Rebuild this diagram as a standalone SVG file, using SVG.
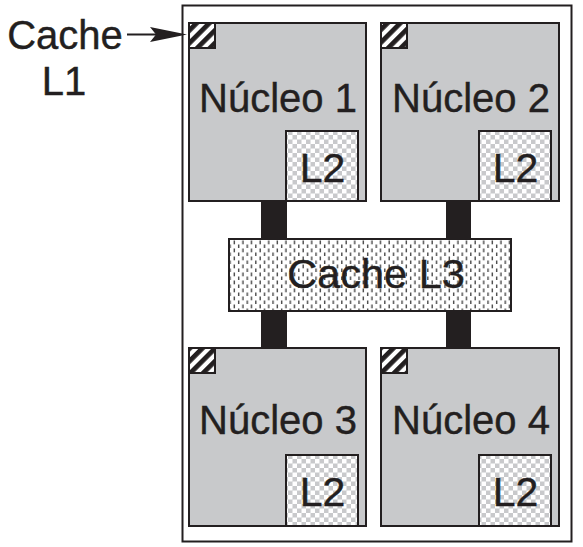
<svg xmlns="http://www.w3.org/2000/svg" width="583" height="547" viewBox="0 0 583 547">
<style>
.t{font-family:"Liberation Sans",Arial,sans-serif;fill:#231f20;text-anchor:middle;stroke:#231f20;stroke-width:0.4}
.node{fill:#c8c9cb;stroke:#231f20;stroke-width:2}
.l2{fill:url(#checker);stroke:#231f20;stroke-width:2}
.l1{fill:url(#stripes);stroke:#231f20;stroke-width:2}
.bar{fill:#231f20}
</style>
<defs>
<pattern id="checker" width="9" height="9" patternUnits="userSpaceOnUse">
<rect width="9" height="9" fill="#c8c9cb"/>
<rect x="0" y="0" width="4.5" height="4.5" fill="#ffffff"/>
<rect x="4.5" y="4.5" width="4.5" height="4.5" fill="#ffffff"/>
</pattern>
<pattern id="stripes" width="9" height="9" patternUnits="userSpaceOnUse" patternTransform="rotate(45)">
<rect width="9" height="9" fill="#ffffff"/>
<rect x="0" y="0" width="4.8" height="9" fill="#231f20"/>
</pattern>
<pattern id="dots" width="8.6" height="8" patternUnits="userSpaceOnUse">
<rect width="8.6" height="8" fill="#ffffff"/>
<rect x="1.5" y="0.5" width="1.3" height="3.8" fill="#3a3a3a"/>
<rect x="5.8" y="4.5" width="1.3" height="3.8" fill="#3a3a3a"/>
</pattern>
</defs>
<rect x="182.5" y="5.5" width="389" height="536" fill="none" stroke="#231f20" stroke-width="2"/>
<g id="connectors">
<rect class="bar" x="261" y="201" width="26" height="38"/>
<rect class="bar" x="446" y="201" width="25" height="38"/>
<rect class="bar" x="261" y="311" width="26" height="37"/>
<rect class="bar" x="446" y="311" width="25" height="37"/>
<line x1="127" y1="34.5" x2="165" y2="34.5" stroke="#231f20" stroke-width="2"/>
<polygon points="150,27 187,34.5 150,42 156,34.5" fill="#231f20"/>
</g>
<g id="label-l1">
<text class="t" x="65" y="49" font-size="40">Cache</text>
<text class="t" x="64" y="95" font-size="40">L1</text>
</g>
<g id="node1">
<rect class="node" x="189" y="23" width="177" height="178"/>
<rect class="l1" x="189" y="23" width="26" height="25"/>
<text class="t" x="278" y="112" font-size="40">Núcleo 1</text>
<rect class="l2" x="286" y="131" width="72" height="70"/>
<text class="t" x="322.5" y="182" font-size="41">L2</text>
</g>
<g id="node2">
<rect class="node" x="381" y="23" width="178" height="178"/>
<rect class="l1" x="381" y="23" width="26" height="25"/>
<text class="t" x="471" y="112" font-size="40">Núcleo 2</text>
<rect class="l2" x="479" y="131" width="72" height="70"/>
<text class="t" x="515.5" y="182" font-size="41">L2</text>
</g>
<g id="l3">
<rect x="229" y="239" width="282" height="72" fill="url(#dots)" stroke="#231f20" stroke-width="2"/>
<text class="t" x="376" y="288" font-size="41.5">Cache L3</text>
</g>
<g id="node3">
<rect class="node" x="189" y="348" width="177" height="178"/>
<rect class="l1" x="189" y="348" width="26" height="25"/>
<text class="t" x="278" y="434" font-size="40">Núcleo 3</text>
<rect class="l2" x="286" y="455" width="72" height="71"/>
<text class="t" x="322.5" y="506" font-size="41">L2</text>
</g>
<g id="node4">
<rect class="node" x="381" y="348" width="178" height="178"/>
<rect class="l1" x="381" y="348" width="26" height="25"/>
<text class="t" x="471" y="434" font-size="40">Núcleo 4</text>
<rect class="l2" x="479" y="455" width="72" height="71"/>
<text class="t" x="515.5" y="506" font-size="41">L2</text>
</g>
</svg>
